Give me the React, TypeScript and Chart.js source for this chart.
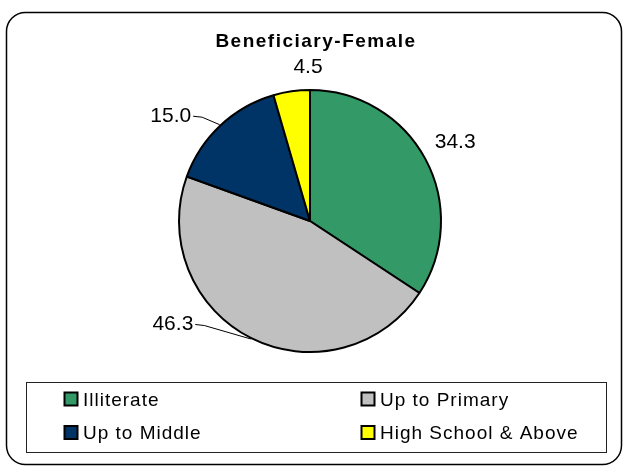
import React, { useEffect, useRef } from "react";
import { Chart, registerables } from "chart.js";

Chart.register(...registerables);

const chartTitle = "Beneficiary-Female";
const categories = ["Illiterate", "Up to Primary", "Up to Middle", "High School & Above"];
const values = [34.3, 46.3, 15.0, 4.5];
const valueLabels = ["34.3", "46.3", "15.0", "4.5"];
const colors = ["#339966", "#C0C0C0", "#003366", "#FFFF00"];

// label placement relative to the slice's mid-angle edge point (style only)
const labelOffsets: [number, number][] = [
  [29, -16],
  [-78, -14.5],
  [-49, -8.5],
  [16.6, -23.6],
];
const hasLeader = [false, true, true, false];

const FONT = '"Liberation Sans", Arial, sans-serif';

const decorPlugin = {
  id: "decor",
  afterDraw(chart: any) {
    const ctx: CanvasRenderingContext2D = chart.ctx;
    ctx.save();

    // outer rounded frame
    const fx = 6.5, fy = 12.5, fw = 615, fh = 452, r = 19;
    ctx.beginPath();
    ctx.moveTo(fx + r, fy);
    ctx.lineTo(fx + fw - r, fy);
    ctx.arcTo(fx + fw, fy, fx + fw, fy + r, r);
    ctx.lineTo(fx + fw, fy + fh - r);
    ctx.arcTo(fx + fw, fy + fh, fx + fw - r, fy + fh, r);
    ctx.lineTo(fx + r, fy + fh);
    ctx.arcTo(fx, fy + fh, fx, fy + fh - r, r);
    ctx.lineTo(fx, fy + r);
    ctx.arcTo(fx, fy, fx + r, fy, r);
    ctx.closePath();
    ctx.lineWidth = 1.5;
    ctx.strokeStyle = "#000";
    ctx.stroke();

    // title
    ctx.fillStyle = "#000";
    ctx.font = `bold 19px ${FONT}`;
    (ctx as any).letterSpacing = "1.5px";
    ctx.textAlign = "center";
    ctx.textBaseline = "alphabetic";
    ctx.fillText(chartTitle, 316, 47);
    (ctx as any).letterSpacing = "0px";

    // data labels
    const meta = chart.getDatasetMeta(0);
    ctx.font = `21px ${FONT}`;
    meta.data.forEach((arc: any, i: number) => {
      const p = arc.getProps(["x", "y", "startAngle", "endAngle", "outerRadius"], true);
      const mid = (p.startAngle + p.endAngle) / 2;
      const ex = p.x + Math.cos(mid) * (p.outerRadius + 1);
      const ey = p.y + Math.sin(mid) * (p.outerRadius + 1);
      const lx = ex + labelOffsets[i][0];
      const ly = ey + labelOffsets[i][1];
      ctx.textAlign = "center";
      ctx.textBaseline = "middle";
      ctx.fillStyle = "#000";
      ctx.fillText(valueLabels[i], lx, ly);
      if (hasLeader[i]) {
        const w = ctx.measureText(valueLabels[i]).width;
        ctx.beginPath();
        ctx.moveTo(lx + w / 2 + 2, ly);
        ctx.lineTo(lx + w / 2 + 11, ly + 1);
        ctx.lineTo(ex, ey);
        ctx.lineWidth = 1;
        ctx.strokeStyle = "#000";
        ctx.stroke();
      }
    });

    // legend box
    ctx.lineWidth = 1;
    ctx.strokeStyle = "#222";
    ctx.strokeRect(26.5, 382.5, 580, 70);
    const colX = [64.5, 361.5];
    const rowY = [392.5, 426];
    ctx.font = `19px ${FONT}`;
    (ctx as any).letterSpacing = "1px";
    ctx.textAlign = "left";
    ctx.textBaseline = "alphabetic";
    categories.forEach((c, i) => {
      const cx = colX[i % 2];
      const cy = rowY[Math.floor(i / 2)];
      ctx.fillStyle = colors[i];
      ctx.fillRect(cx, cy, 13, 13);
      ctx.lineWidth = 2;
      ctx.strokeStyle = "#000";
      ctx.strokeRect(cx, cy, 13, 13);
      ctx.fillStyle = "#000";
      ctx.fillText(c, cx + 18.5, cy + 13);
    });
    (ctx as any).letterSpacing = "0px";

    ctx.restore();
  },
};

export default function App() {
  const ref = useRef<HTMLCanvasElement | null>(null);
  useEffect(() => {
    document.body.style.margin = "0";
    if (!ref.current) return;
    const chart = new Chart(ref.current, {
      type: "pie",
      data: {
        labels: categories,
        datasets: [
          {
            data: values,
            backgroundColor: colors,
            borderColor: "#000",
            borderWidth: 2,
          },
        ],
      },
      options: {
        responsive: false,
        animation: false,
        layout: { padding: { left: 178, right: 181, top: 89, bottom: 113 } },
        plugins: {
          legend: { display: false },
          title: { display: false },
          tooltip: { enabled: false },
        },
      },
      plugins: [decorPlugin],
    });
    return () => chart.destroy();
  }, []);
  return (
    <div style={{ width: 623, height: 466, background: "#fff" }}>
      <canvas ref={ref} width={623} height={466} style={{ display: "block" }} />
    </div>
  );
}
